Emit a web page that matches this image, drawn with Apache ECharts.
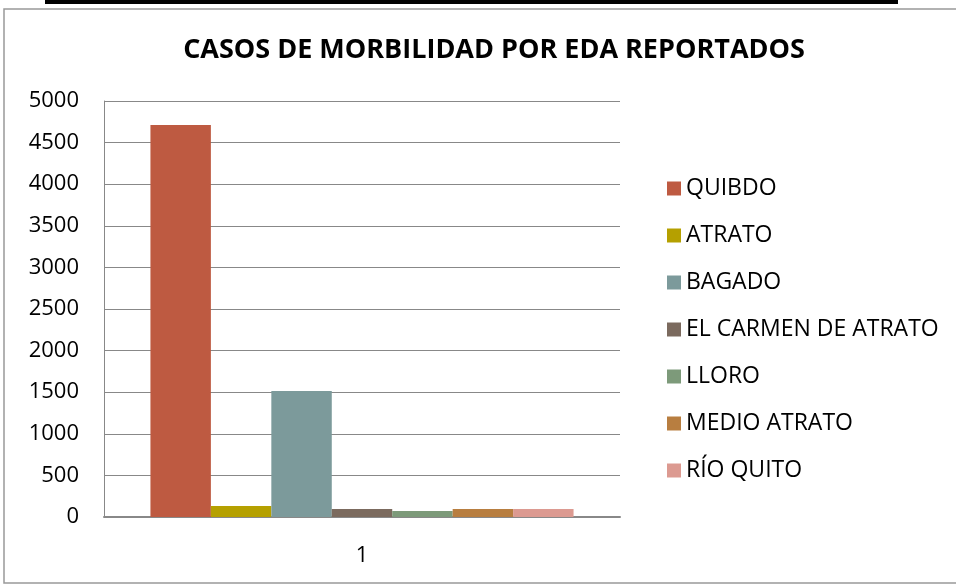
<!DOCTYPE html>
<html>
<head>
<meta charset="utf-8">
<script src="https://cdn.jsdelivr.net/npm/echarts@6/dist/echarts.min.js"></script>
<style>
  html, body { margin: 0; padding: 0; background: #fff; }
  #chart { width: 956px; height: 584px; }
</style>
</head>
<body>
<div id="chart"></div>
<script>
const categories = ['1']
const seriesNames = ['QUIBDO', 'ATRATO', 'BAGADO', 'EL CARMEN DE ATRATO', 'LLORO', 'MEDIO ATRATO', 'RÍO QUITO']
const seriesValues = [4712, 132, 1514, 96, 72, 96, 96]
const seriesColors = ['#BE5A41', '#B5A000', '#7C9A9B', '#7B6A5E', '#7D9A7A', '#B87E40', '#DC9A91']
const yTicks = { min: 0, max: 5000, interval: 500 }

const font = '"Open Sans", "Liberation Sans", sans-serif'

const chart = echarts.init(document.getElementById('chart'))

chart.setOption({
  animation: false,
  backgroundColor: '#fff',
  textStyle: { fontFamily: font },
  title: {
    text: 'CASOS DE MORBILIDAD POR EDA REPORTADOS',
    left: 489,
    top: 32,
    textAlign: 'center',
    textStyle: { fontFamily: font, fontSize: 27, fontWeight: 'bold', color: '#000' },
  },
  legend: {
    orient: 'vertical',
    left: 662,
    top: 172,
    itemWidth: 14,
    itemHeight: 14,
    itemGap: 24,
    icon: 'rect',
    textStyle: { fontFamily: font, fontSize: 23, color: '#000' },
    data: seriesNames,
  },
  grid: { left: 104, top: 101, right: 336, bottom: 67, containLabel: false },
  xAxis: {
    type: 'category',
    data: categories,
    axisLine: { lineStyle: { color: '#888', width: 2 } },
    axisTick: { show: false },
    axisLabel: { color: '#000', fontSize: 22, margin: 28, fontFamily: font },
  },
  yAxis: {
    type: 'value',
    min: yTicks.min,
    max: yTicks.max,
    interval: yTicks.interval,
    axisLine: { show: true, lineStyle: { color: '#888', width: 1 } },
    axisTick: { show: false },
    axisLabel: { color: '#000', fontSize: 22, margin: 25, fontFamily: font, formatter: v => String(v) },
    splitLine: { lineStyle: { color: '#888', width: 1 } },
  },
  series: seriesNames.map((name, i) => ({
    name,
    type: 'bar',
    data: [seriesValues[i]],
    barGap: '0%',
    barCategoryGap: '18%',
    itemStyle: { color: seriesColors[i] },
  })),
  graphic: [
    {
      type: 'rect',
      shape: { x: 4, y: 9, width: 960, height: 574 },
      style: { fill: 'none', stroke: '#999', lineWidth: 1.5 },
      silent: true,
    },
    {
      type: 'rect',
      shape: { x: 45, y: 0, width: 853, height: 4 },
      style: { fill: '#000' },
      silent: true,
    },
  ],
})
</script>
</body>
</html>
